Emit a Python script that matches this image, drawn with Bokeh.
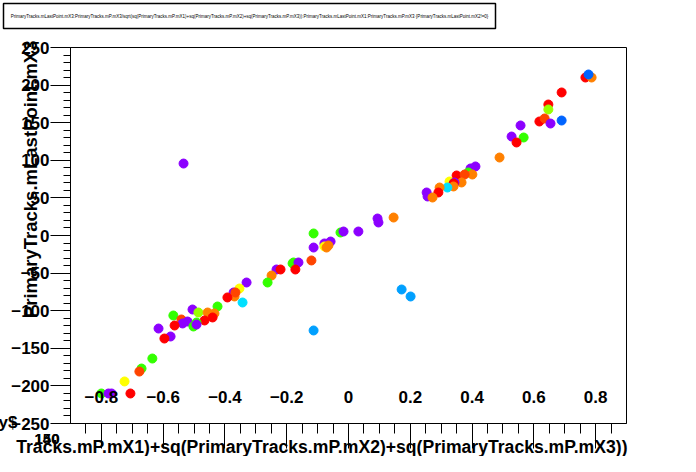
import numpy as np
from bokeh.plotting import figure
from bokeh.models import FixedTicker, LinearColorMapper, ColumnDataSource, Range1d
from bokeh.core.properties import value
from bokeh.embed import file_html
from bokeh.resources import INLINE

# ---- data ----
x_vals = [-0.534, 0.094, 0.097, -0.113, -0.026, -0.016, 0.032, -0.113, -0.078, -0.058,
          -0.078, -0.071, -0.065, -0.120, -0.181, -0.178, -0.162, -0.233, -0.220, -0.172,
          -0.249, -0.262, -0.330, -0.353, -0.372, -0.369, -0.366, -0.392, -0.343, -0.424,
          -0.505, -0.486, -0.456, -0.434, -0.440, -0.466, -0.567, -0.541, -0.537, -0.521,
          -0.492, -0.502, -0.492, -0.563, -0.615, -0.576, -0.596, -0.113, -0.635, -0.670,
          -0.677, -0.725, -0.800, -0.777, -0.767, -0.706, 0.767, 0.787, 0.777, 0.690,
          0.647, 0.647, 0.618, 0.635, 0.654, 0.690, 0.557, 0.528, 0.567, 0.544,
          0.489, 0.395, 0.411, 0.388, 0.401, 0.350, 0.376, 0.366, 0.327, 0.343,
          0.340, 0.340, 0.320, 0.295, 0.291, 0.253, 0.256, 0.272, 0.146, 0.172, 0.201]
y_vals = [95.7, 22.6, 17.3, 2.7, 4.0, 5.3, 5.3, -16.0, -10.6, -8.0,
          -14.6, -16.0, -13.3, -33.2, -37.2, -35.9, -35.9, -45.2, -45.2, -45.2,
          -53.2, -62.5, -62.5, -70.5, -75.8, -81.1, -75.8, -82.4, -89.1, -94.4,
          -98.4, -102.4, -102.4, -103.7, -109.0, -113.0, -106.4, -111.7, -117.0, -114.4,
          -115.7, -121.0, -118.4, -119.7, -123.7, -134.3, -137.0, -126.3, -163.6, -176.9,
          -180.9, -194.1, -210.1, -210.1, -210.1, -210.1, 210.1, 210.1, 214.1, 190.2,
          174.2, 167.6, 151.6, 155.6, 148.9, 152.9, 146.3, 131.6, 130.3, 123.7,
          103.7, 89.1, 91.8, 83.8, 81.1, 79.8, 81.1, 70.5, 71.8, 70.5,
          69.1, 65.2, 63.8, 63.8, 57.2, 57.2, 51.9, 50.5, 23.9, -71.8, -81.1]
z_vals = [0, 0, 0, 4, 4, 0, 0, 0, 0, 0,
          6, 7, 7, 8, 4, 4, 0, 0, 9, 9,
          7, 4, 0, 6, 0, 7, 8, 9, 3, 4,
          0, 5, 7, 7, 9, 9, 4, 8, 0, 0,
          4, 4, 0, 9, 0, 0, 9, 2, 4, 4,
          8, 6, 4, 0, 0, 9, 9, 7, 1, 9,
          9, 5, 9, 8, 0, 1, 0, 0, 4, 9,
          7, 0, 0, 4, 7, 9, 8, 7, 6, 0,
          9, 7, 3, 7, 9, 0, 0, 7, 7, 2, 2]

x_ticks = [-0.8, -0.6, -0.4, -0.2, 0.0, 0.2, 0.4, 0.6, 0.8]
x_tick_labels = ["\u22120.8", "\u22120.6", "\u22120.4", "\u22120.2", "0", "0.2", "0.4", "0.6", "0.8"]
y_ticks = [-250, -200, -150, -100, -50, 0, 50, 100, 150, 200, 250]
y_tick_labels = ["\u2212250", "\u2212200", "\u2212150", "\u2212100", "\u221250", "0",
                 "50", "100", "150", "200", "250"]

title_text = ("PrimaryTracks.mLastPoint.mX3:PrimaryTracks.mP.mX3/sqrt(sq(PrimaryTracks.mP.mX1)"
              "+sq(PrimaryTracks.mP.mX2)+sq(PrimaryTracks.mP.mX3)):PrimaryTracks.mLastPoint.mX1"
              ":PrimaryTracks.mP.mX3 {PrimaryTracks.mLastPoint.mX2!=0}")
x_title = "Tracks.mP.mX1)+sq(PrimaryTracks.mP.mX2)+sq(PrimaryTracks.mP.mX3))"
y_title = "PrimaryTracks.mLastPoint.mX3"
corner_texts = ["140", "150"]

palette = ["#8c00ff", "#0064ff", "#00a0ff", "#00e0ff", "#33ff00",
           "#99ff00", "#ffff00", "#ff8000", "#ff4400", "#ff0000"]

W, H = 680, 456
L, R, T, B = 70, 626, 47, 423          # frame edges on the canvas (px)
X0, X1, Y0, Y1 = -0.9, 0.9, -250, 250
FONT = value("Liberation Sans")


def dx(px):  # canvas px -> data x (for text placed around the frame)
    return X0 + (px - L) / (R - L) * (X1 - X0)


def dy(py):  # canvas px -> data y
    return Y1 - (py - T) / (B - T) * (Y1 - Y0)


p = figure(width=W, height=H, output_backend="svg", toolbar_location=None,
           x_range=Range1d(X0, X1), y_range=Range1d(Y0, Y1),
           min_border_left=L, min_border_right=W - R, min_border_top=T, min_border_bottom=H - B)
p.grid.visible = False
p.outline_line_color = "black"
p.outline_line_width = 1
p.background_fill_color = "white"
p.border_fill_color = "white"

mapper = LinearColorMapper(palette=palette, low=-0.5, high=9.5)
src = ColumnDataSource(dict(x=x_vals, y=y_vals, z=z_vals))
p.scatter("x", "y", source=src, size=9, marker="circle",
          fill_color={"field": "z", "transform": mapper},
          line_color={"field": "z", "transform": mapper})

# x axis
xa = p.xaxis[0]
xa.ticker = FixedTicker(ticks=x_ticks, minor_ticks=list(np.round(np.arange(-0.85, 0.851, 0.05), 3)))
xa.major_label_overrides = dict(zip(x_ticks, x_tick_labels))
xa.major_tick_in = 0
xa.major_tick_out = 25
xa.minor_tick_in = 0
xa.minor_tick_out = 10
xa.major_tick_line_color = "black"
xa.minor_tick_line_color = "black"
xa.major_label_standoff = -58
xa.major_label_text_font = "Liberation Sans"
xa.major_label_text_font_style = "bold"
xa.major_label_text_font_size = "17px"
xa.major_label_text_color = "black"
xa.axis_line_color = "black"

# y axis
ya = p.yaxis[0]
ya.ticker = FixedTicker(ticks=y_ticks, minor_ticks=list(range(-250, 251, 10)))
ya.major_label_overrides = dict(zip(y_ticks, y_tick_labels))
ya.major_tick_in = 0
ya.major_tick_out = 20
ya.minor_tick_in = 0
ya.minor_tick_out = 7
ya.major_tick_line_color = "black"
ya.minor_tick_line_color = "black"
ya.major_label_standoff = 1
ya.major_label_text_font = "Liberation Sans"
ya.major_label_text_font_style = "bold"
ya.major_label_text_font_size = "17px"
ya.major_label_text_color = "black"
ya.axis_line_color = "black"

common = dict(text_font=FONT, text_font_style="bold", text_color="black", level="overlay")
# axis titles
p.text(x=[dx(627)], y=[dy(446)], text=[x_title], text_align="right",
       text_baseline="alphabetic", text_font_size="17.6px", **common)
p.text(x=[dx(30)], y=[dy(40)], text=[y_title], angle=np.pi / 2, text_align="right",
       text_baseline="alphabetic", text_font_size="18.5px", **common)
p.text(x=[dx(17)], y=[dy(422)], text=["y$"], text_align="right",
       text_baseline="middle", text_font_size="17px", **common)
p.text(x=[dx(59)] * 2, y=[dy(438)] * 2, text=corner_texts, text_align="right",
       text_baseline="middle", text_font_size="15px", **common)

# title box
p.quad(left=[dx(3)], right=[dx(495)], top=[dy(3)], bottom=[dy(28)],
       fill_color="white", line_color="black", line_width=1.5, level="overlay")
p.text(x=[dx(249)], y=[dy(15.5)], text=[title_text], text_align="center",
       text_baseline="middle", text_font=FONT, text_font_size="4.5px",
       text_color="black", level="overlay")

open("out.html", "w").write(file_html(p, INLINE))
